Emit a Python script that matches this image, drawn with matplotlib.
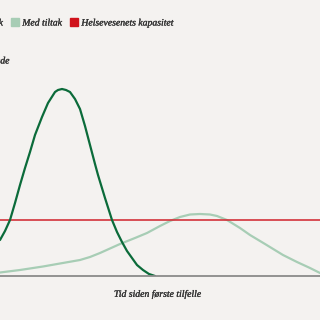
import matplotlib
matplotlib.use("Agg")
import matplotlib.pyplot as plt
import matplotlib.patheffects as pe
from matplotlib.lines import Line2D

# --- Data (x = time, y = cases, arbitrary units) ----
x_uten = [0, 5, 10, 15, 20, 25, 30, 35, 42, 48, 55, 58, 62, 66, 70, 75, 80,
          85, 90, 95, 98, 105, 112, 117, 122, 127, 132, 137, 143, 149, 155]
y_uten = [36, 45, 56, 73, 91, 108, 124, 141, 159, 173, 184, 186, 187, 186,
          184, 177, 167, 150, 131, 112, 101, 78, 56, 44, 34, 25, 18, 11, 6,
          2, 0]

x_med = [0, 20, 43, 60, 80, 90, 100, 110, 120, 135, 147, 160, 170, 180, 190,
         200, 210, 217, 227, 240, 250, 265, 283, 297, 310, 320]
y_med = [3.5, 6, 9.5, 12.5, 16, 19, 23, 27.5, 32, 38, 43, 50, 55, 59, 61.5,
         62, 61.5, 60, 56, 48, 41, 32, 21, 14, 8, 3]

kapasitet = 56

labels = ["Uten tiltak", "Med tiltak", "Helsevesenets kapasitet"]
colors = ["#0b6b3a", "#a7cdb5", "#d0121b"]

BG = "#f4f2f0"
TXT = "#333333"
SIZE = 7
BOLDEN = [pe.withStroke(linewidth=0.2, foreground=TXT)]
FONT = dict(family="Liberation Serif", style="italic", size=SIZE, color=TXT,
            path_effects=BOLDEN)

fig = plt.figure(figsize=(3.2, 3.2), dpi=100, facecolor=BG)
ax = fig.add_axes([0, 44 / 320, 1, 200 / 320], facecolor=BG)

ax.plot(x_med, y_med, color=colors[1], lw=1.6, solid_capstyle="round",
        solid_joinstyle="round")
ax.axhline(kapasitet, color="#d3323a", lw=1.2)
ax.plot(x_uten, y_uten, color=colors[0], lw=1.6, solid_capstyle="round",
        solid_joinstyle="round")

ax.set_xlim(0, 320)
ax.set_ylim(0, 200)
for side in ("top", "right", "left"):
    ax.spines[side].set_visible(False)
ax.spines["bottom"].set_color("#8a8a8a")
ax.spines["bottom"].set_linewidth(1.3)
ax.set_xticks([]); ax.set_yticks([])

# legend is partly cut off on the left, as in the reference
handles = [Line2D([], [], ls="none", marker="s", markersize=5.8,
                  markerfacecolor=c, markeredgecolor=c) for c in colors]
leg = fig.legend(handles, labels, ncol=3, loc="center right",
                 bbox_to_anchor=(179 / 320, 1 - 23 / 320), frameon=False,
                 borderpad=0, handlelength=0.8, handletextpad=0.35,
                 columnspacing=0.8,
                 prop=dict(family="Liberation Serif", style="italic", size=SIZE))
for t in leg.get_texts():
    t.set_color(TXT)
    t.set_path_effects(BOLDEN)

fig.text(10 / 320, 1 - 61 / 320, "Antall smittede", ha="right", va="center", **FONT)
fig.text(158 / 320, 1 - 294 / 320, "Tid siden første tilfelle",
         ha="center", va="center", **FONT)

fig.savefig("out.png", dpi=100, facecolor=BG)
